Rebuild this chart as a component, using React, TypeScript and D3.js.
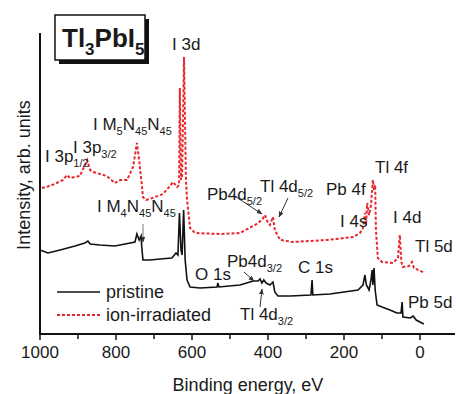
import React from 'react';
import * as d3 from 'd3';

// binding energy ticks (eV)
const xTicks = [1000, 800, 600, 400, 200, 0];
const xMinorTicks = [900, 700, 500, 300, 100];

// pristine spectrum: binding energy (eV) / intensity (arb.)
const pristineE = [1000, 979, 947, 908, 882, 874, 868, 842, 803, 776, 750, 745, 739, 734, 732, 729, 711, 684, 653, 642, 637, 633, 629, 626, 622, 618, 613, 605, 579, 534, 532, 529, 474, 439, 426, 421, 416, 411, 405, 395, 387, 382, 374, 342, 287, 284, 282, 237, 163, 150, 145, 141, 134, 129, 126, 124, 121, 118, 113, 100, 79, 61, 50, 47, 45, 26, 18, 10, -10];
const pristineI = [84, 81, 84, 88, 91, 93, 90, 89, 88, 90, 92, 100, 94, 98, 86, 74, 74, 75, 76, 81, 79, 121, 84, 79, 124, 74, 54, 47, 46, 47, 51, 47, 49, 53, 53, 55, 51, 54, 51, 49, 52, 42, 38, 38, 39, 54, 39, 40, 44, 49, 59, 49, 44, 54, 64, 49, 66, 44, 29, 27, 24, 21, 21, 32, 17, 16, 18, 14, 10];

// ion-irradiated spectrum
const irradiatedE = [995, 974, 939, 929, 921, 895, 876, 868, 860, 824, 803, 789, 771, 755, 745, 739, 737, 732, 729, 721, 711, 676, 658, 650, 639, 634, 632, 629, 626, 621, 616, 613, 605, 592, 526, 474, 434, 416, 408, 400, 395, 387, 382, 368, 334, 245, 176, 158, 150, 145, 142, 139, 134, 129, 124, 121, 118, 116, 111, 100, 71, 58, 53, 49, 45, 29, 21, 16, -13];
const irradiatedI = [146, 148, 154, 159, 156, 158, 174, 164, 162, 158, 151, 154, 154, 167, 191, 174, 166, 149, 137, 134, 135, 140, 148, 152, 147, 149, 246, 154, 159, 277, 154, 134, 106, 101, 100, 101, 109, 114, 119, 111, 109, 117, 104, 94, 92, 94, 97, 101, 106, 121, 109, 131, 119, 129, 154, 144, 149, 104, 76, 72, 71, 76, 99, 72, 67, 68, 72, 66, 61];

const FONT = "'Liberation Sans', Arial, Helvetica, sans-serif";
const RED = '#e8262d';

type Part = [string, boolean?];

const Label = ({ x, y, parts, size = 17, subSize = 11, subDy = 5, weight = 'normal' }:
  { x: number; y: number; parts: Part[]; size?: number; subSize?: number; subDy?: number; weight?: string }) => {
  let prevSub = false;
  return (
    <text x={x} y={y} fontSize={size} fontFamily={FONT} fontWeight={weight} fill="#1a1a1a">
      {parts.map(([t, sub], i) => {
        const s = !!sub;
        const dy = s === prevSub ? 0 : s ? subDy : -subDy;
        prevSub = s;
        return <tspan key={i} dy={dy} fontSize={s ? subSize : size}>{t}</tspan>;
      })}
    </text>
  );
};

const App = () => {
  const width = 456;
  const height = 394;

  const x = d3.scaleLinear().domain([1000, 0]).range([40, 420]);
  const y = d3.scaleLinear().domain([0, 300]).range([334, 34]);

  const line = d3.line<[number, number]>().x(d => x(d[0])).y(d => y(d[1]));
  const pristine = line(pristineE.map((e, i) => [e, pristineI[i]])) || '';
  const irradiated = line(irradiatedE.map((e, i) => [e, irradiatedI[i]])) || '';

  const y0 = y(0);

  return (
    <svg width={width} height={height} style={{ position: 'absolute', left: 0, top: 0, background: '#fff' }}>
      <defs>
        <marker id="arr" viewBox="0 0 10 10" refX="9" refY="5" markerWidth="6" markerHeight="6" orient="auto-start-reverse">
          <path d="M0,1 L10,5 L0,9 z" fill="#333" />
        </marker>
      </defs>

      {/* title box */}
      <rect x={59} y={19} width={90} height={45} fill="#111" />
      <rect x={55} y={15} width={90} height={45} fill="#fff" stroke="#111" strokeWidth={1.5} />
      <Label x={62} y={47} parts={[['Tl'], ['3', true], ['PbI'], ['5', true]]} size={26} subSize={17} subDy={8} weight="bold" />

      {/* spectra */}
      <path d={irradiated} fill="none" stroke={RED} strokeWidth={2} strokeDasharray="3,2" />
      <path d={pristine} fill="none" stroke="#111" strokeWidth={1.6} />

      {/* axes */}
      <line x1={40} x2={455} y1={y0} y2={y0} stroke="#111" strokeWidth={2} />
      <line x1={40} x2={40} y1={33} y2={y0 + 1} stroke="#111" strokeWidth={2} />
      {xTicks.map(t => (
        <g key={t}>
          <line x1={x(t)} x2={x(t)} y1={y0} y2={y0 + 6} stroke="#111" strokeWidth={1.5} />
          <text x={x(t)} y={y0 + 24} textAnchor="middle" fontSize={17} fontFamily={FONT} fill="#1a1a1a">{t}</text>
        </g>
      ))}
      {xMinorTicks.map(t => (
        <line key={t} x1={x(t)} x2={x(t)} y1={y0} y2={y0 + 5} stroke="#111" strokeWidth={1.5} />
      ))}
      <text x={248} y={391} textAnchor="middle" fontSize={18} fontFamily={FONT} fill="#1a1a1a">Binding energy, eV</text>
      <text transform="translate(30,175) rotate(-90)" textAnchor="middle" fontSize={18} fontFamily={FONT} fill="#1a1a1a">Intensity, arb. units</text>

      {/* peak annotations */}
      <Label x={172} y={50} parts={[['I 3d']]} />
      <Label x={93} y={130} parts={[['I M'], ['5', true], ['N'], ['45', true], ['N'], ['45', true]]} />
      <Label x={45} y={162} parts={[['I 3p'], ['1/2', true]]} />
      <Label x={73} y={153} parts={[['I 3p'], ['3/2', true]]} />
      <Label x={97} y={212} parts={[['I M'], ['4', true], ['N'], ['45', true], ['N'], ['45', true]]} />
      <line x1={143} y1={224} x2={143} y2={242} stroke="#777" strokeWidth={1} markerEnd="url(#arr)" />
      <Label x={207} y={200} parts={[['Pb4d'], ['5/2', true]]} />
      <line x1={233} y1={195} x2={262} y2={214} stroke="#333" strokeWidth={1} markerEnd="url(#arr)" />
      <Label x={260} y={192} parts={[['Tl 4d'], ['5/2', true]]} />
      <line x1={288} y1={198} x2={279} y2={217} stroke="#333" strokeWidth={1} markerEnd="url(#arr)" />
      <Label x={326} y={195} parts={[['Pb 4f']]} />
      <Label x={375} y={173} parts={[['Tl 4f']]} />
      <Label x={340} y={227} parts={[['I 4s']]} />
      <Label x={393} y={223} parts={[['I 4d']]} />
      <Label x={415} y={252} parts={[['Tl 5d']]} />
      <Label x={227} y={267} parts={[['Pb4d'], ['3/2', true]]} />
      <line x1={244} y1={272} x2={254} y2={281} stroke="#333" strokeWidth={1} markerEnd="url(#arr)" />
      <Label x={195} y={280} parts={[['O 1s']]} />
      <Label x={298} y={273} parts={[['C 1s']]} />
      <Label x={240} y={320} parts={[['Tl 4d'], ['3/2', true]]} />
      <line x1={260} y1={307} x2={262} y2={289} stroke="#333" strokeWidth={1} markerEnd="url(#arr)" />
      <Label x={408} y={308} parts={[['Pb 5d']]} />

      {/* legend */}
      <line x1={57} x2={100} y1={292} y2={292} stroke="#111" strokeWidth={1.6} />
      <text x={106} y={298} fontSize={18} fontFamily={FONT} fill="#1a1a1a">pristine</text>
      <line x1={57} x2={100} y1={315} y2={315} stroke={RED} strokeWidth={2} strokeDasharray="3,2" />
      <text x={106} y={321} fontSize={18} fontFamily={FONT} fill="#1a1a1a">ion-irradiated</text>
    </svg>
  );
};

export default App;
